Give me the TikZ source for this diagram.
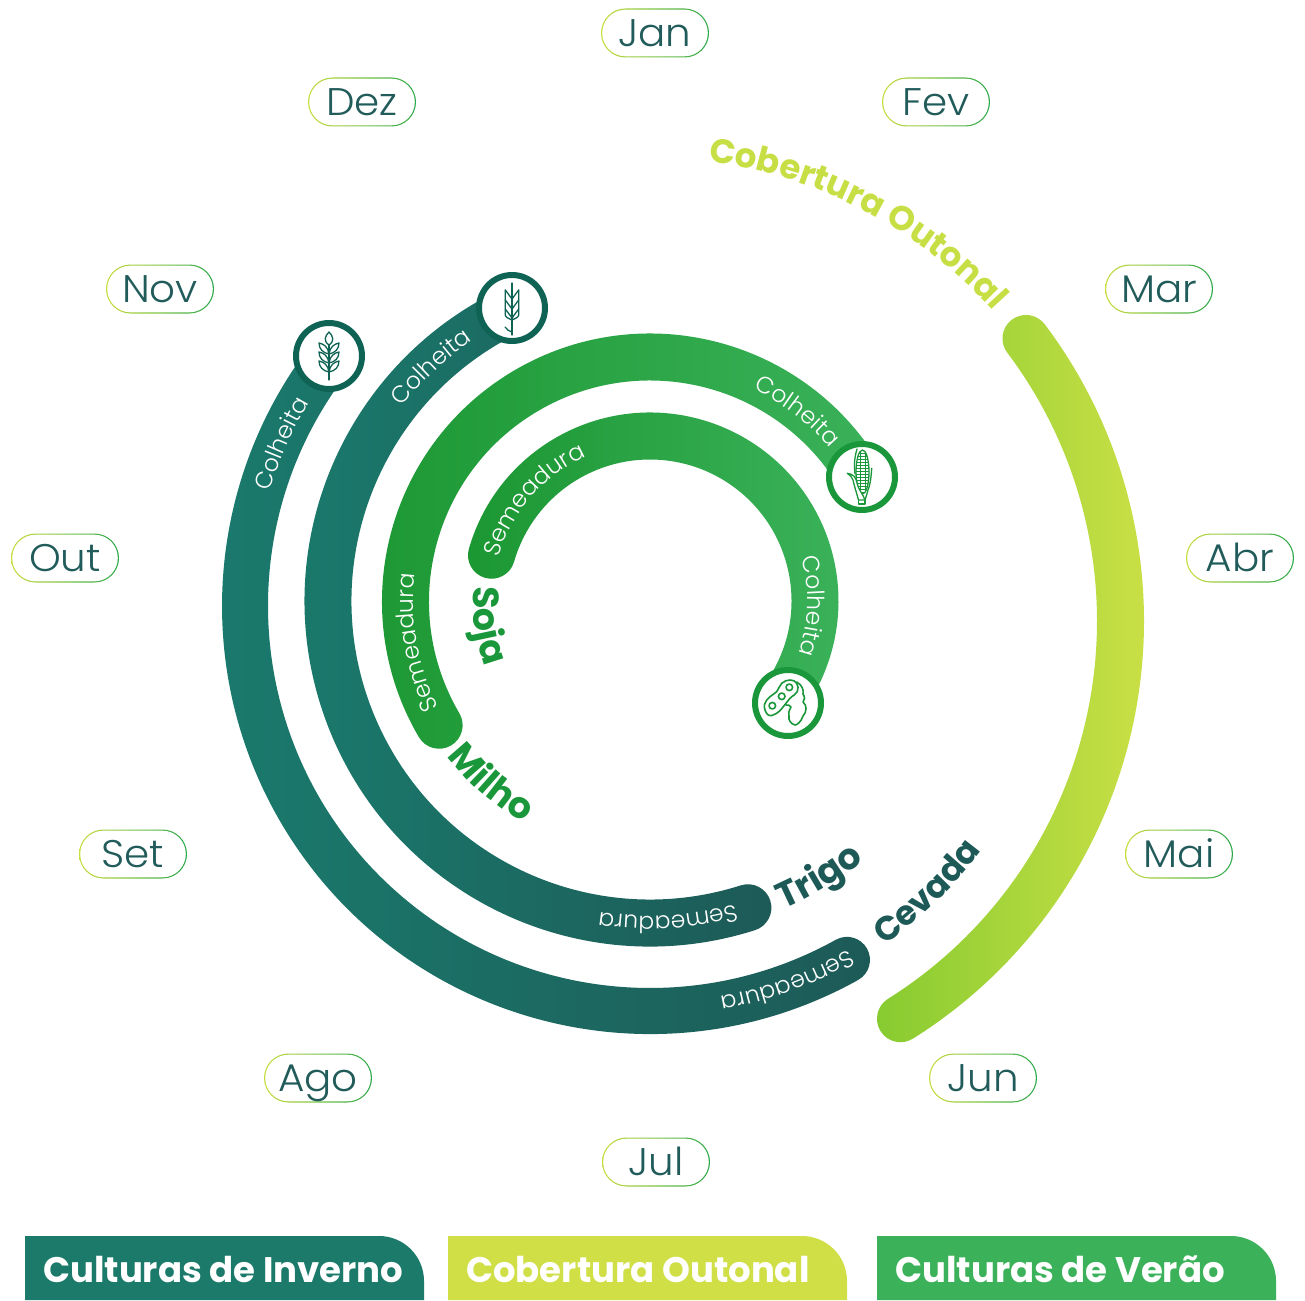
\documentclass[tikz,border=0pt]{standalone}
\usepackage{fontspec}
\usetikzlibrary{decorations.text}
\setmainfont{Poppins}
\newfontfamily\lightf[FakeStretch=1.05]{Poppins Light}
\newfontfamily\bandf{Poppins Light}
\definecolor{ink}{HTML}{215B5A}
\definecolor{tealA}{HTML}{1A7B6D}
\definecolor{tealB}{HTML}{1D5A57}
\definecolor{tealD}{HTML}{0F6354}
\definecolor{greenA}{HTML}{1B9732}
\definecolor{greenB}{HTML}{3BB25A}
\definecolor{greenD}{HTML}{19973A}
\definecolor{limeA}{HTML}{86CB30}
\definecolor{limeB}{HTML}{D0E248}
\definecolor{limeT}{HTML}{C8DE45}
\definecolor{pillL}{HTML}{C8DC3C}
\definecolor{pillR}{HTML}{2AA84A}
\definecolor{legT}{HTML}{1C7A6B}
\definecolor{legL}{HTML}{CFDF45}
\definecolor{legG}{HTML}{3BB25A}
\newcommand\fBand{\bandf\fontsize{23.5}{23.5}\selectfont\color{white}}
\newcommand\fTeal{\bfseries\fontsize{33.8}{33.8}\selectfont\color{tealB}}
\newcommand\fTrigo{\bfseries\fontsize{36}{36}\selectfont\color{tealB}}
\newcommand\fGreen{\bfseries\fontsize{36.5}{36.5}\selectfont\color{greenD}}
\newcommand\fLime{\bfseries\fontsize{34}{34}\selectfont\color{limeT}}
% cx cy r a1 a2 width left right
\newcommand\band[8]{%
  \begin{scope}[shift={(#1,#2)}]
  \pgfmathsetmacro\ro{#3+#6/2}\pgfmathsetmacro\ri{#3-#6/2}\pgfmathsetmacro\rc{#6/2}
  \shade[left color=#7,right color=#8]
    (#4:\ro) arc[start angle=#4,end angle=#5,radius=\ro]
    arc[start angle=#5,end angle=#5+180,radius=\rc]
    arc[start angle=#5,end angle=#4,radius=\ri]
    arc[start angle=#4+180,end angle=#4+360,radius=\rc] -- cycle;
  \end{scope}}
% cx cy r centre-angle half-span format text
\newcommand\curved[7]{%
  \begin{scope}[shift={(#1,#2)}]
  \pgfmathsetmacro\aa{#4-#5}\pgfmathsetmacro\ab{#4+#5}
  \path[decorate,decoration={text along path,text align=center,text={|#6|#7}}]
    (\aa:#3) arc[start angle=\aa,end angle=\ab,radius=#3];
  \end{scope}}
\newcommand\pill[4]{%
  \shade[left color=pillL,right color=pillR,rounded corners=24.5pt] (#2-54,#3-24.5) rectangle (#2+54,#3+24.5);
  \fill[white,rounded corners=23.3pt] (#2-52.8,#3-23.3) rectangle (#2+52.8,#3+23.3);
  \node[monthlabel] (#1) at (#2,#3+13.5) {#4};}
\newcommand\legend[5]{%
  \fill[#2] (#3,1300) -- (#3,1236) -- (#3+354,1236) arc[start angle=-90,end angle=0,radius=45] -- (#3+399,1300) -- cycle;
  \node[legendlabel] (#1) at (#3+18,1282) {#4};}
\tikzset{
  monthlabel/.style={font=\lightf\fontsize{38.5}{38.5}\selectfont,text=ink,inner sep=0pt,anchor=base},
  legendlabel/.style={font=\bfseries\fontsize{35.5}{35.5}\selectfont,text=white,inner sep=0pt,anchor=base west},
  iconring/.style={fill=white,line width=6pt},
  iconline/.style={line width=1.3pt,line join=round,line cap=round},
}
\begin{document}
\begin{tikzpicture}[x=1pt,y=-1pt]
\useasboundingbox (0,0) rectangle (1305,1300);
% month pills
\pill{jan}{655}{33}{Jan}
\pill{fev}{936}{102}{Fev}
\pill{dez}{362}{102}{Dez}
\pill{mar}{1159}{289}{Mar}
\pill{nov}{160}{289}{Nov}
\pill{abr}{1240}{558}{Abr}
\pill{out}{65}{558}{Out}
\pill{mai}{1179}{854}{Mai}
\pill{set}{133}{854}{Set}
\pill{jun}{983}{1078}{Jun}
\pill{ago}{318}{1078}{Ago}
\pill{jul}{656}{1162}{Jul}
% bands
\band{650}{606}{405}{60.9}{217.9}{46}{tealA}{tealB}
\band{650}{601}{322}{72.3}{244.8}{47}{tealA}{tealB}
\band{650}{601.5}{244.5}{149.6}{329.6}{47}{greenA}{greenB}
\band{650}{601}{165}{196.1}{396.5}{47}{greenA}{greenB}
\band{651}{621}{469.5}{-37}{57.9}{47}{limeA}{limeB}
% band text
\curved{650}{606}{397}{203.8}{22}{\fBand}{Colheita}
\curved{650}{606}{397}{69.9}{22}{\fBand}{Semeadura}
\curved{650}{601}{315}{226.9}{26}{\fBand}{Colheita}
\curved{650}{601}{315}{86.7}{26}{\fBand}{Semeadura}
\curved{650}{601.5}{236.5}{307.7}{35}{\fBand}{Colheita}
\curved{650}{601.5}{236.5}{170}{35}{\fBand}{Semeadura}
\curved{650}{601}{157.5}{221.1}{50}{\fBand}{Semeadura}
\curved{650}{601}{157.5}{1.8}{50}{\fBand}{Colheita}
% crop labels
\curved{650}{606}{412}{45.9}{-15}{\fTeal}{Cevada}
\curved{650}{601}{336}{58.5}{-17}{\fTrigo}{Trigo}
\curved{650}{601.5}{255}{131.2}{-20}{\fGreen}{Milho}
\curved{650}{601}{177}{171.4}{-30}{\fGreen}{Soja}
\curved{650}{620}{462}{-62.4}{27}{\fLime}{Cobertura Outonal}
% icons
\draw[iconring,draw=tealD] (329,356) circle[radius=33];
\draw[iconring,draw=tealD] (512,308) circle[radius=33];
\draw[iconring,draw=greenD] (862,477) circle[radius=33];
\draw[iconring,draw=greenD] (788,703) circle[radius=33];
% wheat 1
\begin{scope}[shift={(329,356)},iconline,draw=tealD]
  \draw (0,-11) -- (0,24);
  \draw (0,-11) .. controls (-6,-15) and (-4,-20) .. (0,-24) .. controls (4,-20) and (6,-15) .. (0,-11);
  \foreach \yb in {16,7,-2}{\foreach \s in {1,-1}{
    \draw (0,\yb) .. controls ({\s*6},\yb-1) and ({\s*10},\yb-5) .. ({\s*10},\yb-11)
      .. controls ({\s*5},\yb-10) and ({\s*1},\yb-7) .. (0,\yb);}}
\end{scope}
% wheat 2
\begin{scope}[shift={(512,308)},iconline,draw=tealD]
  \draw (0,-25) -- (0,27);
  \foreach \s in {1,-1}{
    \draw ({\s*6.7},-18) -- ({\s*6.7},7) .. controls ({\s*6.7},9) and ({\s*3},11) .. (0,12);
    \draw ({\s*6.7},-18) -- (0,-9);
    \draw ({\s*6.7},-8) -- (0,1);
    \draw ({\s*6.7},1) -- (0,10);}
  \draw (-7,19) .. controls (-5,22) and (-3,23) .. (0,24);
\end{scope}
% corn
\begin{scope}[shift={(862,477)},iconline,draw=greenD]
  \draw (0.5,-5) ellipse[x radius=6.5,y radius=22];
  \begin{scope}
    \clip (0.5,-5) ellipse[x radius=6.5,y radius=22];
    \foreach \y in {-27,-24,...,18}{\draw[line width=0.8pt] (-7,\y) -- (8,\y);}
    \draw[line width=0.8pt] (-2,-28) -- (-2,18);
    \draw[line width=0.8pt] (3,-28) -- (3,18);
  \end{scope}
  \draw[fill=white] (-14.7,-3.7) .. controls (-9,-3) and (-6,0) .. (-5,6) .. controls (-4,12) and (1,17) .. (3,23) -- (-3.5,23) .. controls (-6,14) and (-8,8) .. (-9,3) .. controls (-10,0) and (-12,-2) .. (-14.7,-3.7);
  \draw (9.7,-8.7) .. controls (9,2) and (8,8) .. (6,13) .. controls (5,17) and (4,20) .. (3,23);
  \draw (-5,-28) .. controls (-8,-18) and (-8,-10) .. (-7,-3);
  \draw (-3.5,23) -- (-3.5,27) -- (3,27) -- (3,23);
\end{scope}
% soybean
\begin{scope}[shift={(788,703)},iconline,line width=1.6pt,draw=greenD]
  \draw plot[smooth cycle,tension=0.7] coordinates {(-23.7,2) (-18,-6.3) (-11.3,-11.3) (-6.3,-19.7) (2,-23) (8.7,-19.7) (9.3,-11.3) (2,-4.7) (-4.7,3.7) (-11.3,10.3) (-19.7,12)};
  \draw (8.7,-21) .. controls (14,-18) and (16,-13) .. (15,-9) .. controls (17,-6) and (17,-3) .. (15,-1)
     .. controls (19,2) and (19,9) .. (15,13) .. controls (13,19) and (9,22) .. (7,22)
     .. controls (3,21) and (0,17) .. (1,13) .. controls (0,9) and (2,6) .. (3,4) .. controls (2,2) and (0,2) .. (-2,2);
  \draw (-15.7,2.7) circle[radius=3.3];
  \draw (-6.3,-6.7) circle[radius=3.3];
  \draw (1.3,-15.7) circle[radius=3.3];
\end{scope}
% legend
\legend{lega}{legT}{25}{Culturas de Inverno}{}
\legend{legb}{legL}{448}{Cobertura Outonal}{}
\legend{legc}{legG}{877}{Culturas de Verão}{}
\end{tikzpicture}
\end{document}
